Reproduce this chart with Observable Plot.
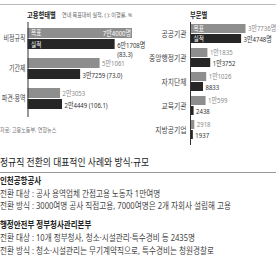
<!DOCTYPE html>
<html><head><meta charset="utf-8">
<script src="https://cdn.jsdelivr.net/npm/d3@7"></script>
<script src="https://cdn.jsdelivr.net/npm/@observablehq/plot@0.6"></script>
<style>
body{margin:0;background:#fff;font-family:"Noto Sans","Noto Sans CJK KR",sans-serif;}
#wrap{position:relative;width:276px;height:260px;overflow:hidden;background:#fff;}
.abs{position:absolute;white-space:nowrap;line-height:1;color:#333;transform-origin:0 0;}
.chart{position:absolute;left:0;top:0;}
.hr{position:absolute;left:0;width:276px;height:1px;}
.body{font-size:9px;color:#444;transform:scaleX(0.845);}
.bold{font-size:9px;font-weight:bold;color:#222;transform:scaleX(0.83);}
.head{font-weight:bold;font-size:8px;color:#222;transform:scaleX(0.78);}
.small{font-size:6px;transform:scaleX(0.84);}
</style></head><body>
<div id="wrap">
  <div class="hr" style="top:4px;background:#bbb"></div>
  <div id="left" class="chart"></div>
  <div id="right" class="chart"></div>
  <div class="abs head" style="left:27px;top:10.5px">고용형태별</div>
  <div class="abs small" style="left:62px;top:12px;color:#666">연내 목표대비 실적, ( ): 이행률, %</div>
  <div class="abs head" style="left:190px;top:10.5px">부문별</div>
  <div class="abs small" style="left:0px;top:127px;color:#777">자료: 고용노동부, 연합뉴스</div>
  <div class="abs" style="left:0px;top:156.5px;font-size:10px;color:#222;transform:scaleX(0.88)">정규직 전환의 대표적인 사례와 방식·규모</div>
  <div class="hr" style="top:172px;background:#999"></div>
  <div class="abs bold" style="left:0;top:176px">인천공항공사</div>
  <div class="abs body" style="left:0;top:188.5px">전환 대상 : 공사 용역업체 간접고용 노동자 1만여명</div>
  <div class="abs body" style="left:0;top:201px">전환 방식 : 3000여명 공사 직접고용, 7000여명은 2개 자회사 설립해 고용</div>
  <div class="abs bold" style="left:0;top:220px">행정안전부 정부청사관리본부</div>
  <div class="abs body" style="left:0;top:233px">전환 대상 : 10개 정부청사, 청소·시설관리·특수경비 등 2435명</div>
  <div class="abs body" style="left:0;top:245.5px">전환 방식 : 청소·시설관리는 무기계약직으로, 특수경비는 청원경찰로</div>
</div>
<script>
// 고용형태별 (employment type)
const typeCats = ["비정규직", "기간제", "파견·용역"];
const typeTarget = [74000, 51061, 23053];
const typeActual = [61708, 37259, 24449];
const typeRate = [83.3, 73.0, 106.1];

// 부문별 (sector)
const sectorCats = ["공공기관", "중앙행정기관", "자치단체", "교육기관", "지방공기업"];
const sectorTarget = [37736, 11835, 11026, 10599, 2918];
const sectorActual = [34748, 13752, 8833, 2438, 1937];

const legendTarget = "목표";
const legendActual = "실적";

const GRAY = "#8e8e8e", DARK = "#262626";
const fmt = n => n >= 10000 ? `${Math.floor(n / 10000)}만${n % 10000}` : String(n);

const typeRows = typeCats.map((c, i) => ({
  cat: c, target: typeTarget[i], actual: typeActual[i],
  tLabel: fmt(typeTarget[i]) + (i === 0 ? "명" : ""),
  aLabel: i === 0 ? `${fmt(typeActual[i])}명\n(${typeRate[i].toFixed(1)})`
                  : `${fmt(typeActual[i])} (${typeRate[i].toFixed(1)})`
}));
const sectorRows = sectorCats.map((c, i) => ({
  cat: c, target: sectorTarget[i], actual: sectorActual[i],
  tLabel: fmt(sectorTarget[i]) + (i === 0 ? "명" : ""),
  aLabel: fmt(sectorActual[i]) + (i === 0 ? "명" : "")
}));

const style = {background: "transparent", overflow: "visible",
  fontFamily: "'Noto Sans', 'Noto Sans CJK KR', sans-serif", fontSize: "7.5px"};

// horizontally condense every text (newspaper-style narrow type)
function condense(svg, k) {
  d3.select(svg).selectAll("text").each(function () {
    const t = d3.select(this);
    const tr = t.attr("transform");
    if (tr) t.attr("transform", tr + ` scale(${k},1)`);
    else {
      const x = +t.attr("x") || 0, y = +t.attr("y") || 0;
      t.attr("x", null).attr("y", null).attr("transform", `translate(${x},${y}) scale(${k},1)`);
    }
  });
  return svg;
}

function chart(rows, opts) {
  const half = opts.band / 2;
  const svg = Plot.plot({
    width: 276, height: 150,
    marginTop: 22, marginBottom: opts.marginBottom, marginLeft: 0, marginRight: 0,
    x: {domain: [0, d3.max(rows, d => d.target)], range: opts.xRange, axis: null},
    y: {domain: rows.map(d => d.cat), range: opts.yRange,
        paddingInner: opts.pi, paddingOuter: opts.po, axis: null},
    style,
    marks: [
      Plot.barX(rows, {x: "target", y: "cat", fill: GRAY, insetBottom: half + 0.5}),
      Plot.barX(rows, {x: "actual", y: "cat", fill: DARK, insetTop: half + 0.5}),
      Plot.ruleX([0], {stroke: "#333", strokeWidth: 1}),
      Plot.text(rows, {x: () => 0, y: "cat", text: "cat", textAnchor: "end", dx: opts.catDx,
        fontSize: opts.catFont, fill: "#444"}),
      Plot.text(rows.slice(0, 1), {x: () => 0, y: "cat", text: () => legendTarget, textAnchor: "start",
        dx: 3, dy: -half / 2 - 0.5, fill: "white", fontSize: 7}),
      Plot.text(rows.slice(0, 1), {x: () => 0, y: "cat", text: () => legendActual, textAnchor: "start",
        dx: 3, dy: half / 2 + 0.5, fill: "white", fontSize: 7}),
      Plot.text(rows.filter((d, i) => !(opts.firstInside && i === 0)), {x: "target", y: "cat", text: "tLabel",
        textAnchor: "start", dx: 2, dy: -half / 2 - 0.5, fill: "#888"}),
      Plot.text(rows.filter((d, i) => opts.firstInside && i === 0), {x: "target", y: "cat", text: "tLabel",
        textAnchor: "end", dx: -1.5, dy: -half / 2 - 0.5, fill: "white"}),
      Plot.text(rows, {x: "actual", y: "cat", text: "aLabel", textAnchor: "start", lineAnchor: "top",
        lineHeight: 1.2, dx: 2, dy: half / 2 - 3, fill: "#333"})
    ]
  });
  return condense(svg, 0.8);
}

document.getElementById("left").append(chart(typeRows, {
  band: 21, marginBottom: 33, xRange: [27.5, 132], yRange: [22, 114],
  pi: 0.311, po: 0.164, firstInside: true, catFont: 7.5, catDx: -2.5
}));
document.getElementById("right").append(chart(sectorRows, {
  band: 19, marginBottom: 5, xRange: [190, 245.5], yRange: [22, 141],
  pi: 0.208, po: 0.083, firstInside: false, catFont: 8.5, catDx: -4
}));
</script>
</body></html>
